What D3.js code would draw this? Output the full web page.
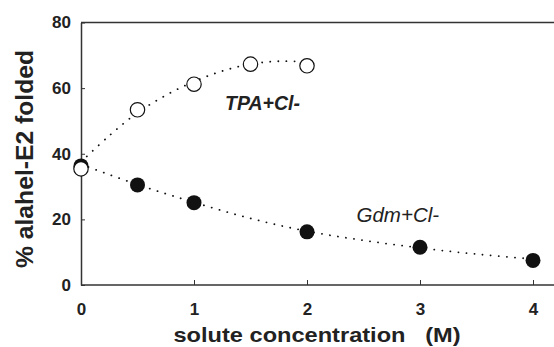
<!DOCTYPE html>
<html>
<head>
<meta charset="utf-8">
<script src="https://cdn.jsdelivr.net/npm/d3@7"></script>
<style>
  body { margin: 0; background: #fff; }
  svg { display: block; font-family: "Liberation Sans", Arial, sans-serif; }
</style>
</head>
<body>
<svg id="chart" width="554" height="347"></svg>
<script>
// measured points
var tpaX = [0, 0.5, 1, 1.5, 2]
  , tpaY = [35.4, 53.4, 61.2, 67.3, 66.8]
var gdmX = [0, 0.5, 1, 2, 3, 4]
  , gdmY = [36.3, 30.5, 25.1, 16.2, 11.5, 7.5]

// fitted dotted curves
var tpaFitX = [0, 0.25, 0.5, 0.75, 1, 1.25, 1.5, 1.75, 2]
  , tpaFitY = [37.5, 45.5, 52.5, 57.8, 62, 65.2, 67.3, 68.2, 68]
var gdmFitX = [0, 0.5, 1, 1.5, 2, 2.5, 3, 3.5, 4]
  , gdmFitY = [36.8, 30.6, 25.2, 20.3, 16.4, 13.6, 11.3, 9.4, 7.9]

var xTicks = [0, 1, 2, 3, 4]
  , yTicks = [0, 20, 40, 60, 80]

var svg = d3.select('#chart')
  , plotL = 81, plotR = 533, plotT = 22.5, plotB = 285

var x = d3.scaleLinear().domain([0, 4]).range([plotL, plotR])
  , y = d3.scaleLinear().domain([0, 80]).range([plotB, plotT])

var axisColor = '#333'

// frame: left, bottom, top (right side cropped off in the original)
svg.append('line').attr('x1', plotL).attr('x2', 554).attr('y1', plotT).attr('y2', plotT)
  .attr('stroke', axisColor).attr('stroke-width', 1.5)

var xAxis = svg.append('g').attr('transform', 'translate(0,' + plotB + ')')
  .call(d3.axisBottom(x).tickValues(xTicks).tickFormat(d3.format('d'))
    .tickSizeInner(-5).tickSizeOuter(0).tickPadding(18))
xAxis.select('.domain').attr('d', 'M' + plotL + ',0H554')
var yAxis = svg.append('g').attr('transform', 'translate(' + plotL + ',0)')
  .call(d3.axisLeft(y).tickValues(yTicks).tickFormat(d3.format('d'))
    .tickSizeInner(-4).tickSizeOuter(0).tickPadding(10))

svg.selectAll('.domain').attr('stroke', axisColor).attr('stroke-width', 1.5)
svg.selectAll('.tick line').attr('stroke', axisColor).attr('stroke-width', 1)
svg.selectAll('.tick text')
  .attr('font-family', '"Liberation Sans", Arial, sans-serif')
  .attr('font-size', 17).attr('font-weight', 'bold').attr('fill', '#222')
xAxis.selectAll('.tick text').attr('dy', '0.71em')

// axis titles
svg.append('text').attr('x', 173.5).attr('y', 342)
  .attr('font-size', 21).attr('font-weight', 'bold').attr('fill', '#222')
  .attr('xml:space', 'preserve')
  .attr('textLength', 287).attr('lengthAdjust', 'spacingAndGlyphs')
  .text('solute concentration   (M)')
svg.append('text').attr('transform', 'translate(33,' + 159 + ') rotate(-90)')
  .attr('text-anchor', 'middle').attr('font-size', 24).attr('font-weight', 'bold').attr('fill', '#222')
  .attr('textLength', 218).attr('lengthAdjust', 'spacingAndGlyphs')
  .text('% alahel-E2 folded')

// dotted fit curves
var line = d3.line().x(function(d) { return x(d[0]) }).y(function(d) { return y(d[1]) })
  .curve(d3.curveCatmullRom)
var dotted = function(xs, ys) {
  svg.append('path').datum(d3.zip(xs, ys)).attr('d', line)
    .attr('fill', 'none').attr('stroke', '#111').attr('stroke-width', 1.8)
    .attr('stroke-linecap', 'round').attr('stroke-dasharray', '0.1,8')
}
dotted(gdmFitX, gdmFitY)
dotted(tpaFitX, tpaFitY)

// markers
svg.selectAll('circle.gdm').data(d3.zip(gdmX, gdmY))
  .enter().append('circle').attr('class', 'gdm')
  .attr('cx', function(d) { return x(d[0]) }).attr('cy', function(d) { return y(d[1]) })
  .attr('r', 7.5).attr('fill', '#111')
svg.selectAll('circle.tpa').data(d3.zip(tpaX, tpaY))
  .enter().append('circle').attr('class', 'tpa')
  .attr('cx', function(d) { return x(d[0]) }).attr('cy', function(d) { return y(d[1]) })
  .attr('r', 7.2).attr('fill', '#fff').attr('stroke', '#111').attr('stroke-width', 1.2)

// series labels
svg.append('text').attr('x', 225).attr('y', 110)
  .attr('font-size', 19.5).attr('font-weight', 'bold').attr('font-style', 'italic').attr('fill', '#222')
  .text('TPA+Cl-')
svg.append('text').attr('x', 356.5).attr('y', 221.5)
  .attr('font-size', 20.5).attr('font-style', 'italic').attr('fill', '#222')
  .text('Gdm+Cl-')
</script>
</body>
</html>
